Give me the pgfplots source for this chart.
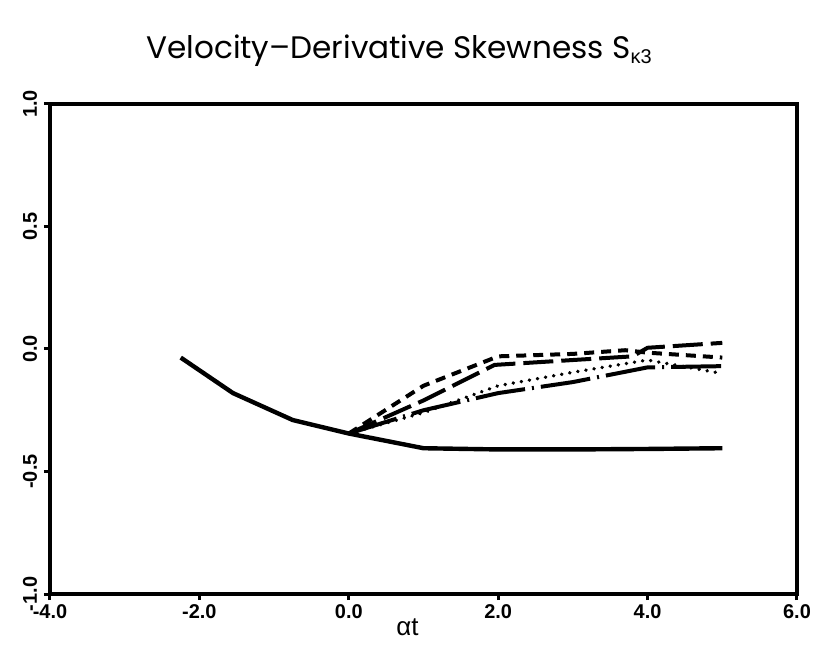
\documentclass[border=0pt]{standalone}
\usepackage{pgfplots}
\pgfplotsset{compat=1.18}
\usepackage{fontspec}
\setmainfont{Liberation Sans}
\newfontfamily\pop{Poppins}
\newfontfamily\lib{Liberation Sans}
\begin{document}
\begin{tikzpicture}
\useasboundingbox (-25bp,-28bp) rectangle (385.5bp,297bp);
\begin{axis}[
  at={(0,0)}, anchor=south west,
  width=373.5bp, height=245bp, scale only axis,
  xmin=-4, xmax=6, ymin=-1, ymax=1,
  xtick={-4,-2,0,2,4,6}, ytick={-1,-0.5,0,0.5,1},
  axis line style={line width=2bp},
  tick style={line width=1.5bp, black},
  tick align=outside, major tick length=3bp,
  xtick pos=bottom, ytick pos=left,
  /pgf/number format/assume math mode=true,
  /pgf/number format/.cd, fixed, fixed zerofill, precision=1,
  /tikz/.cd,
  ticklabel style={font=\fontsize{10}{12}\selectfont\bfseries},
  xticklabel style={yshift=1bp},
  yticklabel style={rotate=90, anchor=south, xshift=0bp},
  xlabel={\lib\fontsize{13}{15}\selectfont αt},
  xlabel style={yshift=7bp, xshift=-8bp},
  title={\pop\fontsize{15.6}{18}\selectfont Velocity–Derivative Skewness S\textsubscript{\lib\fontsize{10}{12}\selectfont κ3}},
  title style={yshift=9bp, xshift=-12bp},
  clip=false,
]
\addplot[black, line width=2.2bp] coordinates {
(-2.25,-0.035) (-1.55,-0.18) (-0.75,-0.29) (0,-0.345) (1,-0.405) (2,-0.41) (3,-0.41) (4,-0.408) (5,-0.405)};
\addplot[black, line width=2bp, dash pattern=on 5bp off 3.5bp] coordinates {
(0,-0.345) (1,-0.15) (2,-0.03) (3,-0.02) (3.7,-0.005) (4,-0.015) (5,-0.035)};
\addplot[black, line width=2bp, dash pattern=on 15bp off 4bp] coordinates {
(0,-0.345) (1,-0.21) (1.95,-0.065) (3,-0.045) (3.8,-0.03) (4,0.005) (5,0.025)};
\addplot[black, line width=1.8bp, line cap=round, dash pattern=on 0.1bp off 4bp] coordinates {
(0,-0.345) (1,-0.26) (2,-0.15) (3,-0.095) (4,-0.045) (5,-0.10)};
\addplot[black, line width=2bp, dash pattern=on 25bp off 3.5bp on 1bp off 3.5bp] coordinates {
(0,-0.345) (1,-0.25) (2,-0.18) (3,-0.135) (4,-0.075) (5,-0.07)};
\end{axis}
\end{tikzpicture}
\end{document}
